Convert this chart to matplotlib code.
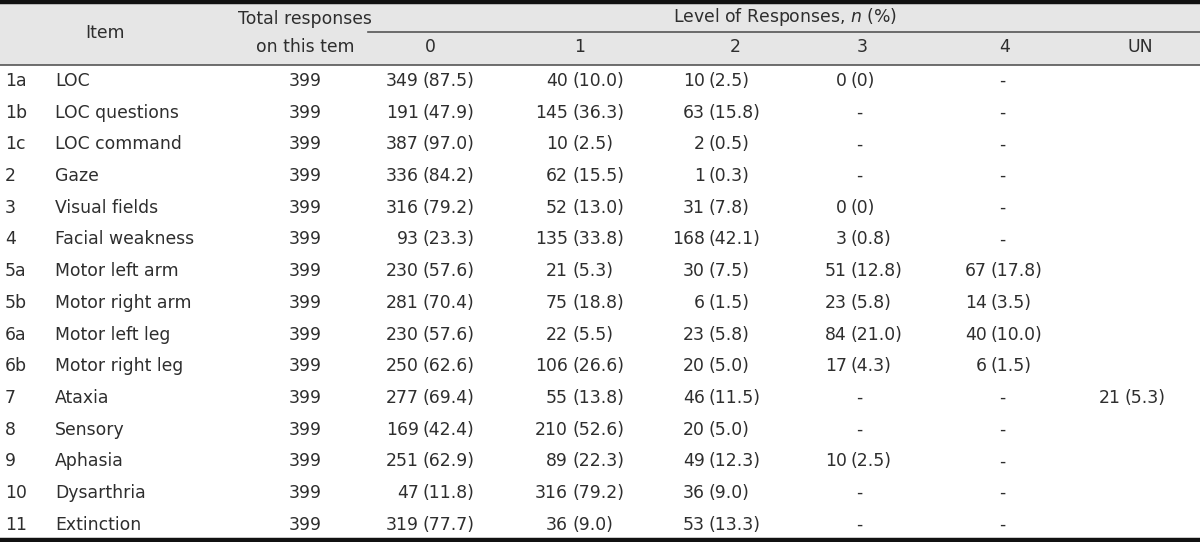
import matplotlib
matplotlib.use('Agg')
import matplotlib.pyplot as plt

plt.rcParams['font.family'] = ['DejaVu Sans']
plt.rcParams['mathtext.fontset'] = 'dejavusans'

# table content
codes = ['1a', '1b', '1c', '2', '3', '4', '5a', '5b', '6a', '6b', '7', '8', '9', '10', '11']
names = ['LOC', 'LOC questions', 'LOC command', 'Gaze', 'Visual fields', 'Facial weakness',
         'Motor left arm', 'Motor right arm', 'Motor left leg', 'Motor right leg', 'Ataxia',
         'Sensory', 'Aphasia', 'Dysarthria', 'Extinction']
totals = [399] * 15
level0 = ['349 (87.5)', '191 (47.9)', '387 (97.0)', '336 (84.2)', '316 (79.2)', '93 (23.3)',
          '230 (57.6)', '281 (70.4)', '230 (57.6)', '250 (62.6)', '277 (69.4)', '169 (42.4)',
          '251 (62.9)', '47 (11.8)', '319 (77.7)']
level1 = ['40 (10.0)', '145 (36.3)', '10 (2.5)', '62 (15.5)', '52 (13.0)', '135 (33.8)',
          '21 (5.3)', '75 (18.8)', '22 (5.5)', '106 (26.6)', '55 (13.8)', '210 (52.6)',
          '89 (22.3)', '316 (79.2)', '36 (9.0)']
level2 = ['10 (2.5)', '63 (15.8)', '2 (0.5)', '1 (0.3)', '31 (7.8)', '168 (42.1)',
          '30 (7.5)', '6 (1.5)', '23 (5.8)', '20 (5.0)', '46 (11.5)', '20 (5.0)',
          '49 (12.3)', '36 (9.0)', '53 (13.3)']
level3 = ['0 (0)', '-', '-', '-', '0 (0)', '3 (0.8)', '51 (12.8)', '23 (5.8)', '84 (21.0)',
          '17 (4.3)', '-', '-', '10 (2.5)', '-', '-']
level4 = ['-', '-', '-', '-', '-', '-', '67 (17.8)', '14 (3.5)', '40 (10.0)', '6 (1.5)',
          '-', '-', '-', '-', '-']
level_un = ['', '', '', '', '', '', '', '', '', '', '21 (5.3)', '', '', '', '']
level_headers = ['0', '1', '2', '3', '4', 'UN']

W, H = 1200, 542
fig = plt.figure(figsize=(W / 100, H / 100), dpi=100)
ax = fig.add_axes([0, 0, 1, 1])
ax.set_xlim(0, W)
ax.set_ylim(H, 0)
ax.axis('off')

txt = '#2e2e2e'
fs = 12.4

# header band and rules
ax.axhspan(3, 65, color='#e6e6e6', lw=0)
ax.axhline(2, color='#111111', lw=3.2)
ax.axhline(540, color='#111111', lw=3.2)
ax.plot([368, W], [32, 32], color='#555555', lw=1.2)
ax.axhline(65, color='#555555', lw=1.2)

ax.text(105, 33, 'Item', ha='center', va='center', fontsize=fs, color=txt)
ax.text(305, 19, 'Total responses', ha='center', va='center', fontsize=fs, color=txt)
ax.text(305, 47, 'on this tem', ha='center', va='center', fontsize=fs, color=txt)
ax.text(785, 17, r'Level of Responses, $n$ (%)', ha='center', va='center', fontsize=fs, color=txt)

# column anchors: header centre, split point between count and percent
head_x = [430, 580, 735, 862, 1005, 1140]
split_x = [419, 568, 705, 847, 987, 1121]
for hx, lab in zip(head_x, level_headers):
    ax.text(hx, 47, lab, ha='center', va='center', fontsize=fs, color=txt)

columns = [level0, level1, level2, level3, level4, level_un]
y0, dy = 81, 31.7
for i in range(len(codes)):
    y = y0 + i * dy
    ax.text(5, y, codes[i], ha='left', va='center', fontsize=fs, color=txt)
    ax.text(55, y, names[i], ha='left', va='center', fontsize=fs, color=txt)
    ax.text(305, y, str(totals[i]), ha='center', va='center', fontsize=fs, color=txt)
    for col, hx, sx in zip(columns, head_x, split_x):
        cell = col[i]
        if cell == '':
            continue
        if cell == '-':
            ax.text(hx - 3, y, '-', ha='center', va='center', fontsize=fs, color=txt)
            continue
        n, pct = cell.split(' ', 1)
        ax.text(sx, y, n, ha='right', va='center', fontsize=fs, color=txt)
        ax.text(sx + 4, y, pct, ha='left', va='center', fontsize=fs, color=txt)

fig.savefig('out.png', dpi=100)
